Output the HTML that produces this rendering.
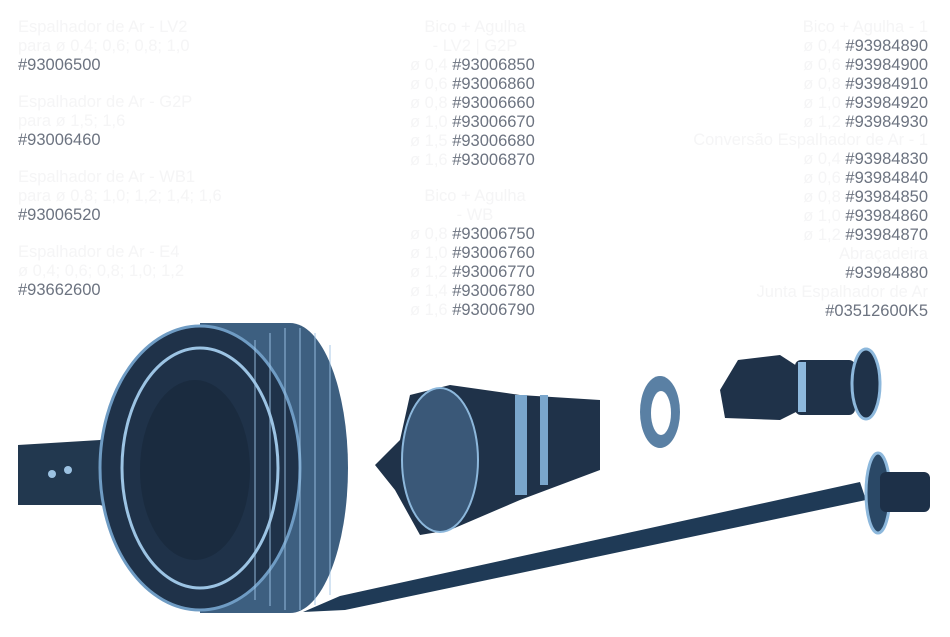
<!DOCTYPE html>
<html><head><meta charset="utf-8"><style>
body{margin:0;width:950px;height:637px;background:#fff;position:relative;overflow:hidden;font-family:"Liberation Sans",sans-serif;}
.t{position:absolute;font-size:16.5px;line-height:18.9px;color:#6c7380;white-space:nowrap}
.f{color:#f5f5f6}
svg{position:absolute;left:0;top:0}
</style></head><body>
<div class="t" style="left:18px;top:18px"><span class="f">Espalhador de Ar - LV2</span><br><span class="f">para ø 0,4; 0,6; 0,8; 1,0</span><br>#93006500</div>
<div class="t" style="left:18px;top:93px"><span class="f">Espalhador de Ar - G2P</span><br><span class="f">para ø 1,5; 1,6</span><br>#93006460</div>
<div class="t" style="left:18px;top:168px"><span class="f">Espalhador de Ar - WB1</span><br><span class="f">para ø 0,8; 1,0; 1,2; 1,4; 1,6</span><br>#93006520</div>
<div class="t" style="left:18px;top:243px"><span class="f">Espalhador de Ar - E4</span><br><span class="f">ø 0,4; 0,6; 0,8; 1,0; 1,2</span><br>#93662600</div>

<div class="t" style="left:410px;top:18px;text-align:center;width:130px"><span class="f">Bico + Agulha<br>- LV2 | G2P</span></div>
<div class="t" style="left:410px;top:56px"><span class="f">ø 0,4 </span>#93006850<br><span class="f">ø 0,6 </span>#93006860<br><span class="f">ø 0,8 </span>#93006660<br><span class="f">ø 1,0 </span>#93006670<br><span class="f">ø 1,5 </span>#93006680<br><span class="f">ø 1,6 </span>#93006870</div>
<div class="t" style="left:410px;top:187px;text-align:center;width:130px"><span class="f">Bico + Agulha<br>- WB</span></div>
<div class="t" style="left:410px;top:225px"><span class="f">ø 0,8 </span>#93006750<br><span class="f">ø 1,0 </span>#93006760<br><span class="f">ø 1,2 </span>#93006770<br><span class="f">ø 1,4 </span>#93006780<br><span class="f">ø 1,6 </span>#93006790</div>

<div class="t" style="right:22px;top:18px;text-align:right"><span class="f">Bico + Agulha - 1</span><br><span class="f">ø 0,4 </span>#93984890<br><span class="f">ø 0,6 </span>#93984900<br><span class="f">ø 0,8 </span>#93984910<br><span class="f">ø 1,0 </span>#93984920<br><span class="f">ø 1,2 </span>#93984930<br><span class="f">Conversão Espalhador de Ar - 1</span><br><span class="f">ø 0,4 </span>#93984830<br><span class="f">ø 0,6 </span>#93984840<br><span class="f">ø 0,8 </span>#93984850<br><span class="f">ø 1,0 </span>#93984860<br><span class="f">ø 1,2 </span>#93984870<br><span class="f">Abraçadeira</span><br>#93984880<br><span class="f">Junta Espalhador de Ar</span><br>#03512600K5</div>

<svg width="950" height="637" viewBox="0 0 950 637">
<!-- needle -->
<polygon points="303,612 340,596 860,482 866,500 345,610" fill="#1f3a56"/>
<ellipse cx="878" cy="493" rx="12" ry="40" fill="#2a4866" stroke="#8db8dc" stroke-width="3"/>
<rect x="880" y="472" width="50" height="40" rx="6" fill="#1d3048"/>
<!-- cap -->
<polygon points="18,445 100,440 150,400 150,520 100,505 18,505" fill="#22384f"/>
<circle cx="52" cy="474" r="4" fill="#9cc2e2"/><circle cx="68" cy="470" r="4" fill="#9cc2e2"/>
<ellipse cx="290" cy="468" rx="58" ry="145" fill="#3d5f80"/>
<rect x="200" y="323" width="90" height="290" fill="#3d5f80"/>
<ellipse cx="200" cy="468" rx="100" ry="142" fill="#1f3249" stroke="#6f9cc4" stroke-width="3"/>
<ellipse cx="200" cy="468" rx="78" ry="120" fill="none" stroke="#9cc4e4" stroke-width="3"/>
<ellipse cx="195" cy="470" rx="55" ry="90" fill="#1a2b3f"/>
<g stroke="#9fc6e6" stroke-width="1.5" opacity="0.6">
<line x1="255" y1="340" x2="255" y2="600"/><line x1="270" y1="333" x2="270" y2="606"/><line x1="285" y1="328" x2="285" y2="610"/><line x1="300" y1="328" x2="300" y2="610"/><line x1="315" y1="333" x2="315" y2="605"/><line x1="330" y1="345" x2="330" y2="595"/>
</g>
<!-- nozzle -->
<polygon points="375,465 400,440 410,395 450,385 520,395 600,400 600,470 520,500 450,530 420,535 395,490" fill="#1f3249"/>
<ellipse cx="440" cy="460" rx="38" ry="72" fill="#3a5878" stroke="#8db8dc" stroke-width="2"/>
<rect x="515" y="395" width="12" height="100" fill="#7aa6cc"/>
<rect x="540" y="395" width="8" height="90" fill="#7aa6cc"/>
<!-- ring -->
<ellipse cx="660" cy="412" rx="20" ry="36" fill="#5a80a4"/>
<ellipse cx="661" cy="413" rx="10" ry="22" fill="#fff"/>
<!-- fitting -->
<polygon points="720,390 738,360 780,355 800,368 800,410 780,420 725,418" fill="#1f3249"/>
<rect x="795" y="360" width="60" height="55" rx="6" fill="#1f3249"/>
<rect x="798" y="362" width="8" height="50" fill="#8db8dc"/>
<ellipse cx="866" cy="384" rx="14" ry="35" fill="#1f3249" stroke="#8db8dc" stroke-width="3"/>
</svg>
</body></html>
